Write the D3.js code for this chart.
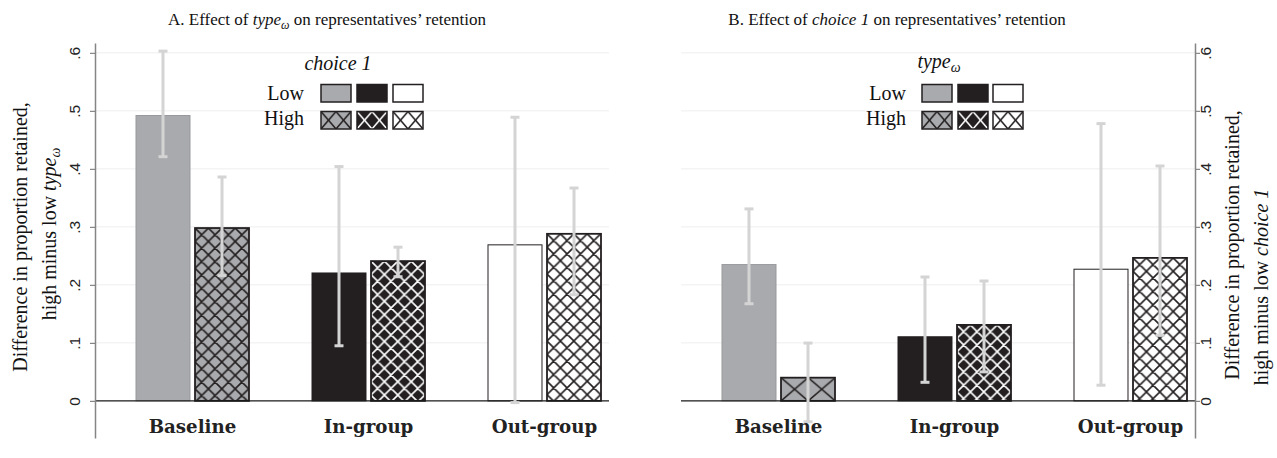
<!DOCTYPE html>
<html><head><meta charset="utf-8">
<script src="https://cdn.jsdelivr.net/npm/d3@7"></script>
<style>
html,body{margin:0;padding:0;background:#fff;}
svg{display:block;}
</style></head>
<body>
<script>
// ---------- data ----------
const categories = ["Baseline", "In-group", "Out-group"];
const levels = ["Low", "High"];
const yTicks = [0, 0.1, 0.2, 0.3, 0.4, 0.5, 0.6];
const yTickLabels = ["0", ".1", ".2", ".3", ".4", ".5", ".6"];

// Panel A: effect of type_omega (by choice 1 level)
const aLow = [0.492, 0.2205, 0.269];
const aLowCiLo = [0.421, 0.095, -0.003];
const aLowCiHi = [0.603, 0.404, 0.489];
const aHigh = [0.298, 0.241, 0.288];
const aHighCiLo = [0.216, 0.214, 0.183];
const aHighCiHi = [0.386, 0.265, 0.367];

// Panel B: effect of choice 1 (by type_omega level)
const bLow = [0.235, 0.1105, 0.227];
const bLowCiLo = [0.1675, 0.032, 0.027];
const bLowCiHi = [0.331, 0.2136, 0.478];
const bHigh = [0.040, 0.131, 0.2465];
const bHighCiLo = [-0.036, 0.050, 0.113];
const bHighCiHi = [0.0997, 0.2067, 0.405];

// ---------- styles ----------
const lowFill = ["#a9aaad", "#231f20", "#ffffff"];
const lowStroke = ["#98999c", "#231f20", "#231f20"];
const hatchBg = ["#a9aaad", "#231f20", "#ffffff"];
const hatchLine = ["#231f20", "#ffffff", "#231f20"];
const ciColor = "#d4d4d4";
const axisColor = "#858585";
const serif = "'Liberation Serif', 'DejaVu Serif', serif";

const W = 1277, H = 458;
const svg = d3.select("body").append("svg").attr("width", W).attr("height", H);
const defs = svg.append("defs");

const y = d3.scaleLinear().domain([-0.064, 0.617]).range([438, 43]);

let patId = 0;
function makePattern(bg, line, x0, y0, w, h, sw) {
  const id = "pat" + (patId++);
  const p = defs.append("pattern").attr("id", id)
    .attr("patternUnits", "userSpaceOnUse")
    .attr("x", x0).attr("y", y0).attr("width", w).attr("height", h);
  p.append("rect").attr("width", w).attr("height", h).attr("fill", bg);
  let d = "";
  for (const k of [-1, 0, 1]) d += `M${k*w - w},${-h}L${k*w + 2*w},${2*h}`;
  for (const k of [0, 1, 2]) d += `M${k*w + w},${-h}L${k*w - 2*w},${2*h}`;
  p.append("path").attr("d", d).attr("stroke", line).attr("stroke-width", sw).attr("fill", "none");
  return "url(#" + id + ")";
}

function appendRich(sel, parts) {
  parts.forEach(pt => {
    const t = sel.append("tspan").text(pt.t);
    if (pt.i) t.attr("font-style", "italic");
    if (pt.sub) t.attr("font-size", pt.sub).attr("dy", pt.dy);
    if (pt.back) t.attr("dy", pt.back);
  });
}

const panels = [
  { origin: 95, side: "left", low: aLow, lowLo: aLowCiLo, lowHi: aLowCiHi,
    high: aHigh, highLo: aHighCiLo, highHi: aHighCiHi,
    title: [{t:"A. Effect of "},{t:"type",i:true},{t:"ω",i:true,sub:12,dy:4},{t:" on representatives’ retention",back:-4}],
    titleX: 327,
    legTitleParts: [{t:"choice 1",i:true}], legTitleX: 338, legTitleY: 70,
    legTextX: 304, legKeyX: [321, 357, 393],
    ylab1: "Difference in proportion retained,",
    ylab2: [{t:"high minus low "},{t:"type",i:true},{t:"ω",i:true,sub:14,dy:4}],
    ylabX1: 27, ylabX2: 56, ylabY1: 237, ylabY2: 234 },
  { origin: 681, side: "right", low: bLow, lowLo: bLowCiLo, lowHi: bLowCiHi,
    high: bHigh, highLo: bHighCiLo, highHi: bHighCiHi,
    title: [{t:"B. Effect of "},{t:"choice 1",i:true},{t:" on representatives’ retention"}],
    titleX: 897,
    legTitleParts: [{t:"type",i:true},{t:"ω",i:true,sub:14,dy:4}], legTitleX: 939, legTitleY: 68,
    legTextX: 906, legKeyX: [922, 958, 993],
    ylab1: "Difference in proportion retained,",
    ylab2: [{t:"high minus low "},{t:"choice 1",i:true}],
    ylabX1: 1239, ylabX2: 1268, ylabY1: 245, ylabY2: 287 }
];

const plotW = 514;

panels.forEach(P => {
  const g = svg.append("g");
  const left = P.origin, right = P.origin + plotW;
  const axisX = P.side === "left" ? left : right;

  // gridlines
  g.append("g").selectAll("line").data(yTicks.filter(d => d > 0)).join("line")
    .attr("x1", left).attr("x2", right)
    .attr("y1", d => y(d)).attr("y2", d => y(d))
    .attr("stroke", "#eeeeee").attr("stroke-width", 1);

  const x0 = d3.scaleBand().domain(categories).range([left + 9.5, left + 537.5]).padding(0);
  const x1 = d3.scaleBand().domain(levels).range([-56.5, 56.5]).paddingInner(0.085);
  const bw = x1.bandwidth();

  const rows = [];
  categories.forEach((c, i) => {
    rows.push({ c, i, lev: "Low", v: P.low[i], lo: P.lowLo[i], hi: P.lowHi[i] });
    rows.push({ c, i, lev: "High", v: P.high[i], lo: P.highLo[i], hi: P.highHi[i] });
  });
  rows.forEach(r => {
    r.x = x0(r.c) + x0.bandwidth() / 2 + x1(r.lev);
    r.yTop = y(r.v);
    r.h = y(0) - y(r.v);
  });

  // bars
  rows.forEach(r => {
    let fill, stroke, sw;
    if (r.lev === "Low") {
      fill = lowFill[r.i]; stroke = lowStroke[r.i]; sw = 1;
    } else {
      let pw = 13.4, ph = 13.4;
      if (r.h < 2 * 13.4) { ph = r.h; pw = r.h * 1.17; }
      fill = makePattern(hatchBg[r.i], hatchLine[r.i], r.x, r.yTop, pw, ph, 1.6);
      stroke = "#231f20"; sw = 1.8;
    }
    g.append("rect").attr("x", r.x).attr("y", r.yTop).attr("width", bw).attr("height", r.h)
      .attr("fill", fill).attr("stroke", stroke).attr("stroke-width", sw);
  });

  // zero line
  g.append("line").attr("x1", left).attr("x2", right).attr("y1", y(0)).attr("y2", y(0))
    .attr("stroke", "#1a1a1a").attr("stroke-width", 1.4);

  // confidence intervals
  rows.forEach(r => {
    const cx = r.x + bw / 2;
    g.append("line").attr("x1", cx).attr("x2", cx).attr("y1", y(r.lo)).attr("y2", y(r.hi))
      .attr("stroke", ciColor).attr("stroke-width", 3);
    [r.lo, r.hi].forEach(v => {
      g.append("line").attr("x1", cx - 4.5).attr("x2", cx + 4.5).attr("y1", y(v)).attr("y2", y(v))
        .attr("stroke", ciColor).attr("stroke-width", 3);
    });
  });

  // axis
  const axis = (P.side === "left" ? d3.axisLeft(y) : d3.axisRight(y))
    .tickValues(yTicks).tickFormat((d, i) => yTickLabels[i]).tickSize(5).tickSizeOuter(0);
  const ag = g.append("g").attr("transform", `translate(${axisX},0)`).call(axis);
  ag.select(".domain").attr("stroke", axisColor).attr("stroke-width", 1.5);
  ag.selectAll(".tick line").attr("stroke", axisColor).attr("stroke-width", 1.2);
  const off = P.side === "left" ? -15 : 16;
  ag.selectAll(".tick text")
    .attr("x", null).attr("dy", null).attr("y", null)
    .attr("transform", `translate(${off},0) rotate(-90)`)
    .attr("text-anchor", "middle")
    .attr("fill", "#222").attr("font-family", "'Liberation Sans', Arial, sans-serif").attr("font-size", 15.5);

  // category labels
  g.append("g").selectAll("text").data(categories).join("text")
    .attr("x", d => x0(d) + x0.bandwidth() / 2).attr("y", 433)
    .attr("text-anchor", "middle").attr("font-family", "'DejaVu Serif', serif")
    .attr("font-weight", "bold").attr("font-size", 18.2).attr("fill", "#222")
    .text(d => d);

  // title
  const tt = g.append("text").attr("x", P.titleX).attr("y", 25).attr("text-anchor", "middle")
    .attr("font-family", serif).attr("font-size", 17).attr("fill", "#111");
  appendRich(tt, P.title);

  // legend
  const lt = g.append("text").attr("x", P.legTitleX).attr("y", P.legTitleY).attr("text-anchor", "middle")
    .attr("font-family", serif).attr("font-size", 20).attr("fill", "#111");
  appendRich(lt, P.legTitleParts);
  const rowsY = [{ lev: "Low", ty: 100, ky: 84.5 }, { lev: "High", ty: 125, ky: 111.5 }];
  rowsY.forEach(rw => {
    g.append("text").attr("x", P.legTextX).attr("y", rw.ty).attr("text-anchor", "end")
      .attr("font-family", serif).attr("font-size", 20).attr("fill", "#111").text(rw.lev);
    categories.forEach((c, i) => {
      const kx = P.legKeyX[i], kw = 30, kh = 17.5;
      let fill;
      if (rw.lev === "Low") fill = lowFill[i];
      else fill = makePattern(hatchBg[i], hatchLine[i], kx, rw.ky, kw / 2, kh, 1.5);
      g.append("rect").attr("x", kx).attr("y", rw.ky).attr("width", kw).attr("height", kh)
        .attr("fill", fill).attr("stroke", "#231f20").attr("stroke-width", 1.5);
    });
  });

  // y-axis title (two rotated lines)
  g.append("text").attr("transform", `translate(${P.ylabX1},${P.ylabY1}) rotate(-90)`)
    .attr("text-anchor", "middle").attr("font-family", serif).attr("font-size", 20).attr("fill", "#111")
    .text(P.ylab1);
  const l2 = g.append("text").attr("transform", `translate(${P.ylabX2},${P.ylabY2}) rotate(-90)`)
    .attr("text-anchor", "middle").attr("font-family", serif).attr("font-size", 20).attr("fill", "#111");
  appendRich(l2, P.ylab2);
});
</script>
</body></html>
